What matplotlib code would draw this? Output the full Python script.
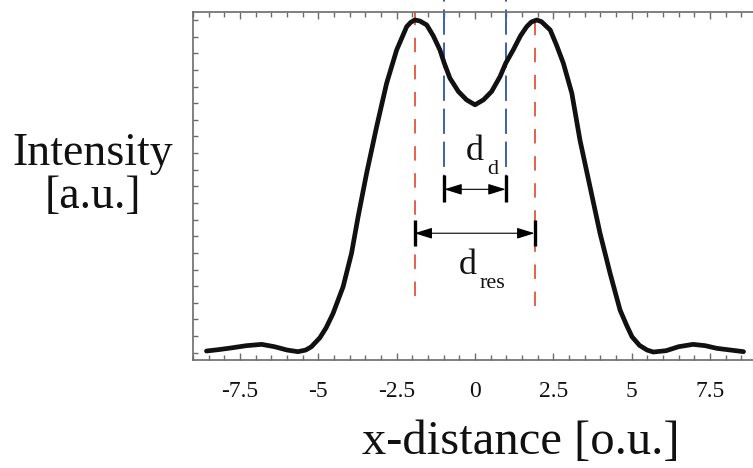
#!/usr/bin/env python3
"""Double-peak intensity profile with resolution / dip distance markers."""

import matplotlib

matplotlib.use("Agg")
import matplotlib.pyplot as plt
from matplotlib.ticker import MultipleLocator, NullFormatter

# profile (x in optical units, normalised intensity)
x_pos = [-8.57, -8.2, -7.8, -7.3, -6.81, -6.4, -6.0, -5.65, -5.4, -5.22,
         -4.95, -4.75, -4.53, -4.21, -3.94, -3.73, -3.46, -3.14, -2.82, -2.5,
         -2.18, -2.05, -1.92, -1.76, -1.54, -1.33, -1.12, -0.98, -0.8, -0.53,
         -0.27, 0.0, 0.27, 0.53, 0.8, 0.98, 1.22, 1.45, 1.65, 1.8,
         1.97, 2.12, 2.4, 2.6, 2.82, 3.09, 3.35, 3.67, 3.99, 4.31,
         4.63, 4.85, 5.01, 5.25, 5.49, 5.69, 6.1, 6.5, 6.96, 7.35,
         7.72, 8.15, 8.57]
intensity = [0.005, 0.009, 0.014, 0.021, 0.025, 0.018, 0.008, 0.003, 0.008, 0.018,
             0.045, 0.075, 0.118, 0.198, 0.299, 0.409, 0.539, 0.679, 0.81, 0.91,
             0.98, 0.993, 1.0, 0.997, 0.985, 0.952, 0.91, 0.87, 0.825, 0.785,
             0.76, 0.745, 0.76, 0.785, 0.83, 0.87, 0.91, 0.952, 0.98, 0.994,
             1.0, 0.995, 0.97, 0.925, 0.87, 0.78, 0.639, 0.499, 0.359, 0.239,
             0.128, 0.08, 0.048, 0.022, 0.008, 0.002, 0.006, 0.018, 0.025, 0.021,
             0.013, 0.008, 0.003]

peak_x = [-1.93, 1.9]        # red markers (d_res)
dip_x = [-0.98, 0.98]        # blue markers (d_d)
tick_vals = [-7.5, -5, -2.5, 0, 2.5, 5, 7.5]
tick_labels = ["-7.5", "-5", "-2.5", "0", "2.5", "5", "7.5"]

SERIF = "Liberation Serif"
plt.rcParams["font.family"] = SERIF

RED = "#e0553a"
BLUE = "#3d5fae"
AXCOL = "#6b6b6b"
INK = "#111111"

fig = plt.figure(figsize=(7.53, 4.68), dpi=100)
ax = fig.add_axes([193 / 753, 1 - 360 / 468, 564 / 753, 348 / 468])

ax.plot(x_pos, intensity, color=INK, lw=3.4, solid_capstyle="round", zorder=3)

# red dashed lines at the peaks
for xp, y0 in zip(peak_x, [0.17, 0.14]):
    ax.plot([xp, xp], [y0, 1.024], color=RED, lw=1.3, dashes=(8, 7), zorder=2)
# blue dashed lines through the dip, running above the frame
for xd in dip_x:
    ax.plot([xd, xd], [0.46, 1.07], color=BLUE, lw=1.4, dashes=(13, 4),
            zorder=2, clip_on=False)

# distance arrows with end bars
arrow_style = "<|-|>,head_length=0.9,head_width=0.28"
y_dd, y_res = 0.491, 0.359
ax.annotate("", xy=(dip_x[0], y_dd), xytext=(dip_x[1], y_dd),
            arrowprops=dict(arrowstyle=arrow_style, color="black", lw=0.8,
                            shrinkA=0, shrinkB=0, mutation_scale=12))
ax.vlines(dip_x, y_dd - 0.037, y_dd + 0.043, color="black", lw=2.4, zorder=4)
ax.annotate("", xy=(peak_x[0], y_res), xytext=(peak_x[1], y_res),
            arrowprops=dict(arrowstyle=arrow_style, color="black", lw=0.8,
                            shrinkA=0, shrinkB=0, mutation_scale=12))
ax.vlines(peak_x, y_res - 0.038, y_res + 0.04, color="black", lw=2.4, zorder=4)

# labels: main letter plus a separate subscript
ax.text(0.0, 0.58, "d", fontsize=26, ha="center", va="baseline", color=INK)
ax.text(0.40, 0.537, "d", fontsize=16, ha="left", va="baseline", color=INK)
ax.text(-0.22, 0.236, "d", fontsize=26, ha="center", va="baseline", color=INK)
ax.text(0.16, 0.194, "res", fontsize=16, ha="left", va="baseline", color=INK)

ax.set_xlim(-9, 9)
ax.set_ylim(-0.022, 1.024)
ax.set_xticks(tick_vals)
ax.set_xticklabels(tick_labels)
ax.xaxis.set_minor_locator(MultipleLocator(0.5))
ax.yaxis.set_major_locator(MultipleLocator(0.05))
ax.yaxis.set_major_formatter(NullFormatter())
ax.tick_params(axis="x", which="both", direction="in", top=True, bottom=True,
               color=AXCOL, width=1.0)
ax.tick_params(axis="x", which="major", length=5, labelsize=17, pad=15,
               labelcolor=INK)
ax.tick_params(axis="x", which="minor", length=3.5)
ax.tick_params(axis="y", which="both", direction="in", left=True, right=False,
               length=3.5, color=AXCOL, width=1.0)
for side in ("left", "bottom", "top"):
    ax.spines[side].set_color(AXCOL)
    ax.spines[side].set_linewidth(1.2)
ax.spines["right"].set_visible(False)

fig.text(93 / 753, 1 - 175 / 468, "Intensity\n[a.u.]", fontsize=33,
         ha="center", va="center", linespacing=1.0, color=INK)
fig.text(521 / 753, 1 - 442 / 468, "x-distance [o.u.]", fontsize=35,
         ha="center", va="center", color=INK)

fig.savefig("out.png", dpi=100)
plt.close(fig)
